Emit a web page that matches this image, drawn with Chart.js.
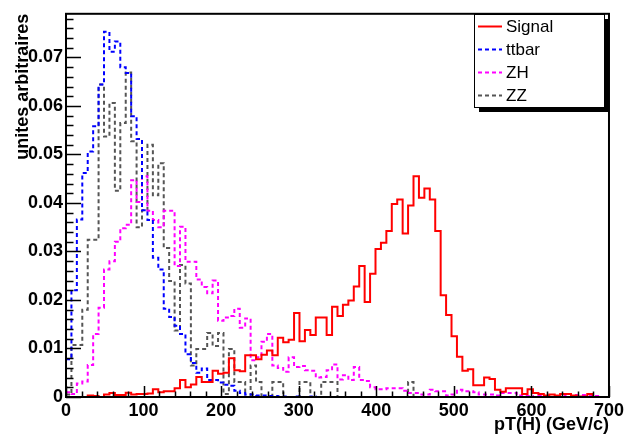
<!DOCTYPE html>
<html><head><meta charset="utf-8">
<script src="https://cdn.jsdelivr.net/npm/chart.js@4.4.1/dist/chart.umd.min.js"></script>
<style>html,body{margin:0;padding:0;background:#fff;}canvas{display:block;}</style>
</head><body>
<canvas id="c" width="627" height="443"></canvas>
<script>
// ---- data ----
const binWidth = 7;            // GeV/c per bin, 100 bins from 0 to 700
const nBins = 100;
const binLowEdges = Array.from({length: nBins}, (_, i) => i * binWidth);

const signal = [
 0,0,0,0,0.0003,0.0002,0,0.0005,0.0008,0.0004,
 0.0004,0.0009,0.0005,0.0006,0.0006,0.0007,0.0016,0.001,0.0012,0.0012,
 0.0018,0.0035,0.002,0.0026,0.0041,0.0031,0.0031,0.0054,0.0048,0.005,
 0.008,0.0055,0.0053,0.0086,0.0086,0.0078,0.0087,0.0096,0.0086,0.0122,
 0.0113,0.0118,0.0173,0.0115,0.0138,0.0128,0.0164,0.0164,0.0128,0.0186,
 0.0167,0.019,0.0199,0.0228,0.027,0.0196,0.0254,0.0305,0.0318,0.0342,
 0.0398,0.0407,0.0337,0.0395,0.0455,0.0411,0.043,0.0407,0.0342,0.021,
 0.0169,0.0125,0.0083,0.0054,0.0057,0.0024,0.0024,0.004,0.0037,0.0015,
 0.0011,0.0018,0.0018,0.0018,0.0006,0.0016,0.0008,0.0006,0.0003,0.0005,
 0.0003,0.0006,0.0006,0.0003,0.0001,0.0001,0.0006,0,0,0];

const ttbar = [
 0.0078,0.022,0.0366,0.0462,0.0506,0.0558,0.0644,0.0753,0.0712,0.0733,
 0.068,0.0668,0.0579,0.0532,0.0385,0.0365,0.0287,0.0263,0.0182,0.0165,
 0.0147,0.013,0.0088,0.007,0.005,0.0059,0.0035,0.0035,0.003,0.0025,
 0.0023,0.0013,0.0008,0.0005,0.0005,0.0003,0.0003,0.0002,0.0002,0.0001,
 0.0001,0,0.0001,0,0,0.0001,0,0,0,0,
 0,0,0,0,0,0,0,0,0,0,
 0,0,0,0,0,0,0,0,0,0,
 0,0,0,0,0,0,0,0,0,0,
 0,0,0,0,0,0,0,0,0,0,
 0,0,0,0,0,0,0,0,0,0];

const zh = [
 0.001,0.0006,0.0028,0.0032,0.0066,0.013,0.0184,0.0263,0.028,0.032,
 0.0348,0.0355,0.0447,0.0402,0.0455,0.0384,0.0365,0.035,0.0384,0.0384,
 0.027,0.0351,0.0279,0.0279,0.0242,0.0227,0.0214,0.024,0.0157,0.0164,
 0.0167,0.0182,0.0143,0.0162,0.0076,0.0082,0.0114,0.013,0.0065,0.006,
 0.0052,0.0082,0.0062,0.0064,0.0055,0.0054,0.004,0.0041,0.0055,0.0067,
 0.0036,0.0045,0.0035,0.0062,0.0035,0.0033,0.002,0.0016,0.0016,0.0018,
 0.0018,0.0018,0.0013,0.0008,0.0008,0.0005,0.0005,0.0015,0.0012,0.0012,
 0.0003,0.0005,0.0015,0.0012,0.0012,0.001,0.0005,0.0005,0.0005,0.0003,
 0.0008,0.0008,0.0008,0.0003,0.0002,0.0002,0,0.0002,0,0,
 0,0.0002,0,0.0004,0.0004,0.0004,0.0004,0.0002,0,0];

const zz = [
 0.0005,0.0107,0.0107,0.018,0.0324,0.0324,0.0644,0.0537,0.0606,0.0425,
 0.0565,0.0669,0.0527,0.035,0.0385,0.052,0.0416,0.0482,0.0307,0.0239,
 0.0137,0.0272,0.0234,0.0065,0.0099,0.0099,0.0132,0.0105,0.0132,0.0006,
 0.0099,0.0031,0.0031,0,0.0065,0.0031,0,0,0.0031,0.0031,
 0,0,0,0.0031,0.0031,0,0,0.0031,0.0031,0.0031,
 0,0,0,0,0,0,0,0,0,0,
 0,0,0,0.0031,0,0,0,0,0,0,
 0,0,0,0,0,0,0,0,0,0,
 0,0,0,0,0,0,0,0,0,0,
 0,0,0,0,0,0,0,0,0,0];

const seriesNames = ['Signal', 'ttbar', 'ZH', 'ZZ'];
const xTickValues = [0, 100, 200, 300, 400, 500, 600, 700];
const yTickValues = [0, 0.01, 0.02, 0.03, 0.04, 0.05, 0.06, 0.07];
const xTitle = 'pT(H) (GeV/c)';
const yTitle = 'unites arbitraires';
const xMax = 700, yMax = 0.079;

// ---- build ----
function histPoints(vals) {
  const pts = binLowEdges.map((x, i) => ({x, y: vals[i]}));
  pts.push({x: binLowEdges[nBins - 1] + binWidth, y: vals[nBins - 1]});
  return pts;
}
const styles = [
  {color: '#ff0000', dash: []},
  {color: '#0000ff', dash: [4, 3]},
  {color: '#ff00ff', dash: [4, 3]},
  {color: '#555555', dash: [4, 3]}
];
const allVals = [signal, ttbar, zh, zz];
const datasets = allVals.map((v, i) => ({
  label: seriesNames[i],
  data: histPoints(v),
  borderColor: styles[i].color,
  borderDash: styles[i].dash,
  borderWidth: 2,
  pointRadius: 0,
  fill: false,
  stepped: true,
  tension: 0
}));

Chart.defaults.font.family = "'Liberation Sans', Arial, Helvetica, sans-serif";
Chart.defaults.color = '#000';

const frameTicks = {
  id: 'frameTicks',
  afterDatasetsDraw(chart) {
    const {ctx, chartArea: a, scales: {x, y}} = chart;
    ctx.save();
    ctx.strokeStyle = '#000';
    ctx.lineWidth = 1.5;
    ctx.beginPath();
    for (let k = 0; k * 0.002 <= yMax + 1e-9; k++) {
      const py = Math.round(y.getPixelForValue(k * 0.002)) + 0.5;
      const len = (k % 5 === 0) ? 15 : 7.5;
      ctx.moveTo(a.left, py); ctx.lineTo(a.left + len, py);
    }
    for (let k = 0; k * 20 <= xMax; k++) {
      const px = Math.round(x.getPixelForValue(k * 20)) + 0.5;
      const len = (k % 5 === 0) ? 11 : 5.5;
      ctx.moveTo(px, a.bottom); ctx.lineTo(px, a.bottom - len);
    }
    ctx.stroke();
    // frame
    ctx.lineWidth = 2;
    ctx.strokeStyle = '#000';
    ctx.strokeRect(a.left, a.top, a.right - a.left, a.bottom - a.top);
    ctx.restore();
  },
  afterDraw(chart) {
    const {ctx} = chart;
    ctx.save();
    const lx = 474, ly = 14, lw = 130, lh = 93;
    ctx.fillStyle = '#000';
    ctx.fillRect(lx + 5, ly + 5, lw, lh);
    ctx.fillStyle = '#fff';
    ctx.fillRect(lx, ly, lw, lh);
    ctx.strokeStyle = '#000';
    ctx.lineWidth = 1;
    ctx.strokeRect(lx + 0.5, ly + 0.5, lw, lh);
    ctx.font = "17px 'Liberation Sans', Arial, sans-serif";
    ctx.textBaseline = 'alphabetic';
    chart.data.datasets.forEach((ds, i) => {
      const base = 31.5 + i * 23.2;
      const my = Math.round(base - 6) + 0.5;
      ctx.beginPath();
      ctx.setLineDash(ds.borderDash);
      ctx.strokeStyle = ds.borderColor;
      ctx.lineWidth = 2;
      ctx.moveTo(478, my); ctx.lineTo(502, my);
      ctx.stroke();
      ctx.setLineDash([]);
      ctx.fillStyle = '#000';
      ctx.fillText(ds.label, 506, base);
    });
    ctx.restore();
  }
};

new Chart(document.getElementById('c'), {
  type: 'line',
  data: {datasets},
  options: {
    responsive: false,
    animation: false,
    devicePixelRatio: 1,
    layout: {padding: {top: 10, right: 17, left: 0, bottom: 0}},
    plugins: {legend: {display: false}, tooltip: {enabled: false}},
    scales: {
      x: {
        type: 'linear', min: 0, max: xMax,
        afterFit(s) { s.height = 46; },
        afterBuildTicks(s) { s.ticks = xTickValues.map(v => ({value: v})); },
        grid: {display: false, drawTicks: false},
        border: {display: false},
        ticks: {font: {size: 18, weight: 'bold'}, padding: 3, maxRotation: 0, autoSkip: false,
                callback: v => String(v)},
        title: {display: true, text: xTitle, align: 'end', font: {size: 18, weight: 'bold'},
                padding: {top: 0, bottom: 7}}
      },
      y: {
        type: 'linear', min: 0, max: yMax,
        afterFit(s) { s.width = 66; },
        afterBuildTicks(s) { s.ticks = yTickValues.map(v => ({value: v})); },
        grid: {display: false, drawTicks: false},
        border: {display: false},
        ticks: {font: {size: 18, weight: 'bold'}, padding: 3, autoSkip: false,
                callback: v => v === 0 ? '0' : v.toFixed(2)},
        title: {display: true, text: yTitle, align: 'end', font: {size: 18, weight: 'bold'},
                padding: {top: 12, bottom: 0}}
      }
    }
  },
  plugins: [frameTicks]
});
</script>
</body></html>
